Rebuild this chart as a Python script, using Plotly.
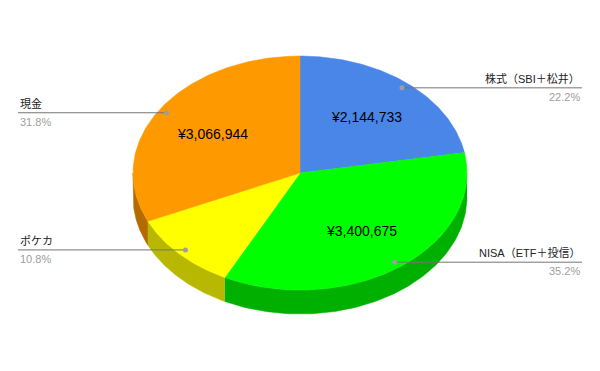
import math
import plotly.graph_objects as go

# ---- data ----
labels = ["株式（SBI＋松井）", "NISA（ETF＋投信）", "ポケカ", "現金"]
values = [2144733, 3400675, 1042751, 3066944]
show_value = [True, True, False, True]
top_colors = ["#4a86e8", "#00ff00", "#ffff00", "#ff9900"]
side_colors = ["#3460a8", "#00b000", "#b8b800", "#b36b00"]

# ---- geometry (layout, pixels) ----
W, H = 600, 371
cx, cy = 300, 173
rx, ry = 167, 117
depth = 24
N = 120

def pt(t, r=1.0, dy=0.0):
    return cx + rx * r * math.sin(t), cy - ry * r * math.cos(t) + dy

total = sum(values)
fracs = [v / total for v in values]
starts, ends = [], []
acc = 0.0
for f in fracs:
    starts.append(acc * 2 * math.pi)
    acc += f
    ends.append(acc * 2 * math.pi)

fig = go.Figure()

# side walls (front half only: angles between pi/2 and 3pi/2)
for s, e, col in zip(starts, ends, side_colors):
    a, b = max(s, math.pi / 2), min(e, 3 * math.pi / 2)
    if b <= a:
        continue
    ts = [a + (b - a) * i / N for i in range(N + 1)]
    xs = [pt(t)[0] for t in ts] + [pt(t, dy=depth)[0] for t in reversed(ts)]
    ys = [pt(t)[1] for t in ts] + [pt(t, dy=depth)[1] for t in reversed(ts)]
    fig.add_trace(go.Scatter(x=xs, y=ys, fill="toself", fillcolor=col, mode="lines",
                             line=dict(width=0.5, color=col), hoverinfo="skip", showlegend=False))

# top faces
for s, e, col in zip(starts, ends, top_colors):
    ts = [s + (e - s) * i / N for i in range(N + 1)]
    xs = [cx] + [pt(t)[0] for t in ts] + [cx]
    ys = [cy] + [pt(t)[1] for t in ts] + [cy]
    fig.add_trace(go.Scatter(x=xs, y=ys, fill="toself", fillcolor=col, mode="lines",
                             line=dict(width=0.5, color=col), hoverinfo="skip", showlegend=False))

font_fam = "Arial, Liberation Sans, Noto Sans CJK JP, sans-serif"
annotations = []
for lab, v, f, s, e, show in zip(labels, values, fracs, starts, ends, show_value):
    mid = (s + e) / 2
    if show:
        tx, ty = pt(mid, 0.62)
        annotations.append(dict(x=tx, y=ty, xref="x", yref="y", text=f"¥{v:,}", showarrow=False,
                                font=dict(size=14, color="#000000", family=font_fam)))
    dx_, dy_ = pt(mid, 0.95)
    right = mid < math.pi
    lx = 582 if right else 18
    fig.add_trace(go.Scatter(x=[dx_, lx], y=[dy_, dy_], mode="lines", line=dict(color="#757575", width=1),
                             hoverinfo="skip", showlegend=False))
    fig.add_trace(go.Scatter(x=[dx_], y=[dy_], mode="markers", marker=dict(color="#9e9e9e", size=5),
                             hoverinfo="skip", showlegend=False))
    anchor = "right" if right else "left"
    annotations.append(dict(x=lx, y=dy_ - 1, xref="x", yref="y", text=lab, showarrow=False,
                            xanchor=anchor, yanchor="bottom", align=anchor,
                            font=dict(size=11, color="#222222", family=font_fam)))
    annotations.append(dict(x=lx, y=dy_ + 1, xref="x", yref="y", text=f"{f*100:.1f}%", showarrow=False,
                            xanchor=anchor, yanchor="top", align=anchor,
                            font=dict(size=11, color="#9e9e9e", family=font_fam)))

fig.update_layout(
    width=W, height=H, margin=dict(l=0, r=0, t=0, b=0),
    paper_bgcolor="white", plot_bgcolor="white",
    xaxis=dict(range=[0, W], visible=False, fixedrange=True),
    yaxis=dict(range=[H, 0], visible=False, fixedrange=True),
    annotations=annotations, showlegend=False,
)
fig.write_html("out.html")
